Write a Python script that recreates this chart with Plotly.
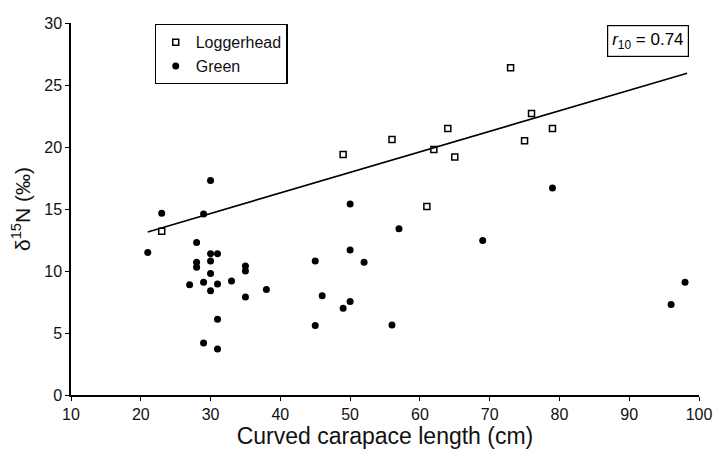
import plotly.graph_objects as go

# Loggerhead turtles (open squares)
logger_ccl = [23, 49, 56, 61, 62, 64, 65, 73, 75, 76, 79]
logger_d15n = [13.2, 19.4, 20.6, 15.2, 19.8, 21.5, 19.2, 26.4, 20.5, 22.7, 21.5]

# Green turtles (filled circles)
green_ccl = [21, 23, 29, 28, 28, 28, 30, 31, 30, 30, 27, 29, 31, 30, 33, 35, 35, 35, 38,
             31, 29, 31, 30, 45, 45, 46, 49, 50, 50, 50, 52, 57, 56, 69, 79, 96, 98]
green_d15n = [11.5, 14.65, 14.6, 12.3, 10.7, 10.3, 11.4, 11.4, 10.8, 9.8, 8.9, 9.1, 8.95,
              8.4, 9.2, 10.4, 10.0, 7.9, 8.5, 6.1, 4.2, 3.7, 17.3, 10.8, 5.6, 8.0, 7.0,
              7.55, 11.7, 15.4, 10.7, 13.4, 5.65, 12.45, 16.7, 7.3, 9.1]

# Loggerhead regression line end points
fit_x = [21, 98.3]
fit_y = [13.15, 25.95]

x_ticks = [10, 20, 30, 40, 50, 60, 70, 80, 90, 100]
y_ticks = [0, 5, 10, 15, 20, 25, 30]

font_family = "Liberation Sans, Arial, sans-serif"

fig = go.Figure()
fig.add_trace(go.Scatter(
    x=fit_x, y=fit_y, mode="lines", line=dict(color="black", width=1.6),
    showlegend=False, hoverinfo="skip"))
fig.add_trace(go.Scatter(
    x=logger_ccl, y=logger_d15n, mode="markers", name="Loggerhead",
    marker=dict(symbol="square-open", size=6, color="black", line=dict(width=1.5))))
fig.add_trace(go.Scatter(
    x=green_ccl, y=green_d15n, mode="markers", name="Green",
    marker=dict(symbol="circle", size=7, color="black")))

fig.update_layout(
    width=715, height=454,
    margin=dict(l=71, r=16, t=23, b=59, autoexpand=False),
    paper_bgcolor="white", plot_bgcolor="white",
    font=dict(family=font_family, color="#111", size=16),
    legend=dict(
        x=0.133, y=0.997, xanchor="left", yanchor="top",
        bordercolor="black", borderwidth=1.2, bgcolor="white",
        font=dict(size=16), itemwidth=30, tracegroupgap=0,
    ),
    xaxis=dict(
        range=[10, 100], tickvals=x_ticks, ticks="outside", ticklen=4,
        tickcolor="black", showline=True, linecolor="black", linewidth=1.5,
        showgrid=False, zeroline=False, tickfont=dict(size=16), automargin=False,
        title=dict(text="Curved carapace length (cm)", font=dict(size=23), standoff=6),
    ),
    yaxis=dict(
        range=[0, 30], tickvals=y_ticks, ticks="outside", ticklen=4,
        tickcolor="black", showline=True, linecolor="black", linewidth=1.5,
        showgrid=False, zeroline=False, tickfont=dict(size=16), automargin=False,
        title=dict(text="δ<sup>15</sup>N (‰)", font=dict(size=21), standoff=8),
    ),
    annotations=[dict(
        x=98.5, y=29.8, xref="x", yref="y", xanchor="right", yanchor="top",
        text="<i>r</i><sub>10</sub> = 0.74", showarrow=False,
        font=dict(size=17, color="black"),
        bordercolor="black", borderwidth=1.2, borderpad=4, bgcolor="white",
    )],
)

fig.write_html(
    "out.html",
    config={"displayModeBar": False},
    post_script="document.body.style.margin='0';document.body.style.overflow='hidden';",
)
